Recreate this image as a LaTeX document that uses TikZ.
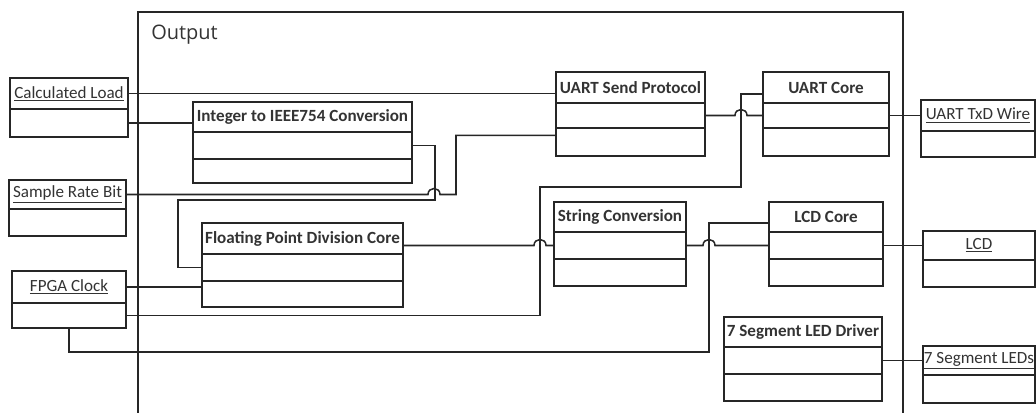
\documentclass[tikz,border=0pt]{standalone}
\usepackage{fontspec}
\setmainfont{Carlito}
\newfontfamily\headfont{Open Sans}
\usetikzlibrary{fit,calc}

\tikzset{
  x=0.75pt, y=-0.75pt,
  rowbox/.style={draw=black!85, line width=1.4pt, inner sep=0pt},
  rowtext/.style={inner sep=0pt, text=black!80, font=\fontsize{12.8}{15}\selectfont},
  headtext/.style={rowtext, font=\fontsize{12.8}{15}\selectfont\bfseries},
  framebox/.style={draw=black!85, line width=1.4pt, inner sep=0pt},
  wire/.style={draw=black!85, line width=1.15pt},
}

% module with a bold title row and two empty rows
\newcommand\modulebox[8]{%
  \node[rowbox, fit={(#2,#4) (#3,#5)}] (#1) {};
  \node[headtext] (#1t) at (#1.center) {#8};
  \node[rowbox, fit={(#2,#5) (#3,#6)}] (#1b) {};
  \node[rowbox, fit={(#2,#6) (#3,#7)}] (#1c) {};
}
% external signal with an underlined name row and one empty row
\newcommand\signalbox[7]{%
  \node[rowbox, fit={(#2,#4) (#3,#5)}] (#1) {};
  \node[rowtext] (#1t) at (#1.center) {\underline{#7}};
  \node[rowbox, fit={(#2,#5) (#3,#6)}] (#1b) {};
}

\begin{document}
\begin{tikzpicture}
\useasboundingbox (0,0) rectangle (1036,412);
\clip (0,0) rectangle (1036,412);

% outer "Output" frame (open at the bottom)
\node[framebox, fit={(138,12) (903,440)}] (out) {};
\node[anchor=west, inner sep=0pt, text=black!80, font=\headfont\fontsize{15}{17}\selectfont] (outlabel) at (151,35) {Output};

% external signals
\signalbox{cl}{10}{128}{78}{109}{137}{Calculated Load}
\signalbox{srb}{9}{126}{180}{209}{236}{Sample Rate Bit}
\signalbox{fc}{12}{126}{271}{303}{328}{FPGA Clock}
\signalbox{utx}{921}{1035}{100}{131}{157}{UART TxD Wire}
\signalbox{lcd}{923}{1035}{231}{260}{287}{LCD}
\signalbox{sl}{923}{1035}{346}{375}{403}{7 Segment LEDs}

% internal modules
\modulebox{int}{193}{412}{102}{132}{159}{183}{Integer to IEEE754 Conversion}
\modulebox{usp}{556}{705}{72}{103}{128}{156}{UART Send Protocol}
\modulebox{uc}{763}{889}{72}{103}{128}{156}{UART Core}
\modulebox{fpd}{202}{403}{223}{254}{281}{307}{Floating Point Division Core}
\modulebox{sc}{554}{686}{202}{232}{259}{286}{String Conversion}
\modulebox{lc}{769}{883}{202}{232}{259}{286}{LCD Core}
\modulebox{sd}{724}{882}{317}{347}{374}{401}{7 Segment LED Driver}

% connections
\draw[wire] (cl.east) -- (cl.east -| usp.west);
\draw[wire] (clb.east) -- (clb.east -| int.west);
\draw[wire] (intb.east) -- ++(22,0) |- (178,200) |- (fpdb.west);
\draw[wire] (srb.east) -- (srb.east -| 428,0)
  .. controls +(0,-8) and +(0,-8) .. (srb.east -| 440,0)
  -- (srb.east -| 456,0) |- ([yshift=5pt]uspc.west);
\draw[wire] (fc.east) -- (fc.east -| fpd.west);
\draw[wire] (fcb.east) -| (540,187) -- (741,187) |- ([yshift=-5pt]uc.west);
\draw[wire] (scb.west -| fpd.east) -- (scb.west -| 534,0)
  .. controls +(0,-8) and +(0,-8) .. (scb.west -| 546,0) -- (scb.west);
\draw[wire] (scb.east) -- (scb.east -| 703,0)
  .. controls +(0,-8) and +(0,-8) .. (scb.east -| 715,0) -- (lcb.west);
\draw[wire] (fcb.south) |- (709,352) |- ([yshift=-4.5pt]lc.west);
\draw[wire] (uspb.east) -- (uspb.east -| 735,0)
  .. controls +(0,-8) and +(0,-8) .. (uspb.east -| 747,0) -- (ucb.west);
\draw[wire] (ucb.east) -- (ucb.east -| utx.west);
\draw[wire] (lcb.east) -- (lcb.east -| lcd.west);
\draw[wire] (sdb.east) -- (sdb.east -| sl.west);
\end{tikzpicture}
\end{document}
